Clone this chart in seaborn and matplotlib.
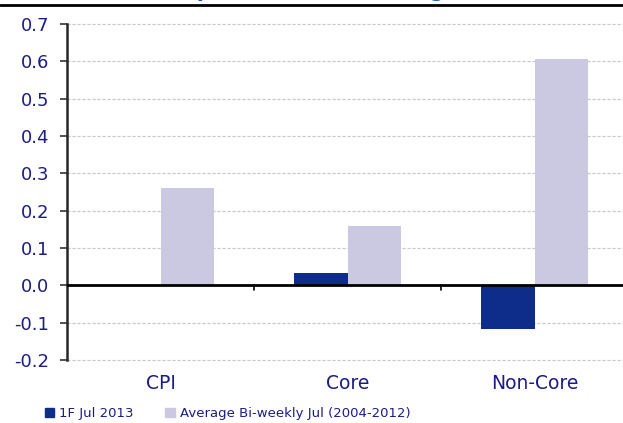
import pandas as pd
import matplotlib.pyplot as plt
import matplotlib.patches as mpatches
from matplotlib.lines import Line2D
import seaborn as sns

sns.set_style("white")
plt.rcParams["font.family"] = ["DejaVu Sans"]

categories = ["CPI", "Core", "Non-Core"]
series_names = ["1F Jul 2013", "Average Bi-weekly Jul (2004-2012)"]
jul_2013 = [0.0, 0.033, -0.118]
avg_jul = [0.26, 0.16, 0.605]
y_ticks = [-0.2, -0.1, 0.0, 0.1, 0.2, 0.3, 0.4, 0.5, 0.6, 0.7]

dark = "#0e2c8a"
light = "#cbc9e1"
navy = "#1c1c86"

df = pd.DataFrame({
    "category": categories * 2,
    "series": [series_names[0]] * 3 + [series_names[1]] * 3,
    "value": jul_2013 + avg_jul,
})

fig = plt.figure(figsize=(6.23, 4.23), dpi=100)
ax = fig.add_axes([67 / 623, 63 / 423, 561 / 623, 336 / 423])

sns.barplot(data=df, x="category", y="value", hue="series", order=categories,
            hue_order=series_names, palette=[dark, light], saturation=1,
            width=0.57, gap=0, linewidth=0, legend=False, ax=ax)

ax.set_xlim(-0.5, 2.5)
ax.set_ylim(-0.2, 0.7)
ax.set_yticks(y_ticks)
ax.set_yticklabels([f"{v:.1f}" for v in y_ticks], color=navy, fontsize=13)
ax.set_xlabel("")
ax.set_ylabel("")
ax.set_xticks([])

# dashed grid, solid zero line
for v in y_ticks:
    if v != 0:
        ax.axhline(v, color="#c8c8c8", lw=0.9, ls=(0, (2.5, 1.5)), zorder=0, clip_on=False)
ax.axhline(0, color="black", lw=2, zorder=3)
for b in [0.5, 1.5]:
    ax.plot([b, b], [0, -0.013], color="black", lw=1.2, clip_on=False, zorder=3)

for s in ["top", "right", "bottom"]:
    ax.spines[s].set_visible(False)
ax.spines["left"].set_linewidth(1.8)
ax.tick_params(axis="y", direction="out", length=5, width=1.2, color="#333333", left=True, pad=8)

for i, c in enumerate(categories):
    ax.text(i, -0.2 - 24 / 374, c, ha="center", va="center", color=navy, fontsize=13.5)

# title (clipped at the top edge, as in the source) and rule
fig.text(0.16, 1 + 2.6 / 423, "CPI Components (% mom chg)", color="#1f5aa8",
         fontsize=15, fontweight="bold", va="baseline", ha="left")
fig.add_artist(Line2D([0, 1], [1 - 5 / 423] * 2, color="black", lw=2))

handles = [mpatches.Patch(color=dark, label=series_names[0]),
           mpatches.Patch(color=light, label=series_names[1])]
leg = fig.legend(handles=handles, loc="lower left", bbox_to_anchor=(38 / 623, -0.008),
                 ncol=2, frameon=False, fontsize=9.5, handlelength=0.7, handleheight=0.7,
                 handletextpad=0.4, columnspacing=2.4, borderaxespad=0.1)
for t in leg.get_texts():
    t.set_color(navy)

fig.savefig("out.png", dpi=100)
